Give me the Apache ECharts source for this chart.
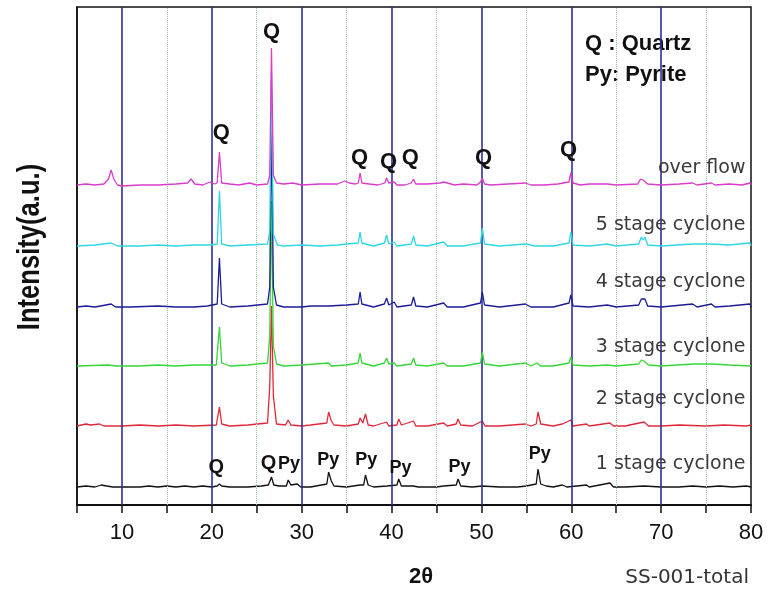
<!DOCTYPE html>
<html>
<head>
<meta charset="utf-8">
<script src="https://cdn.jsdelivr.net/npm/echarts@6/dist/echarts.min.js"></script>
<style>
    html, body { margin: 0; padding: 0; background: #fff; }
    #xrd_chart { width: 769px; height: 597px; }
</style>
</head>
<body>
<div id="xrd_chart"></div>
<script>
// 2-theta vs intensity (a.u.), intensity relative to each trace's own baseline
const stage1 = [[5,0],[6,1],[7,0],[7.7,2],[8.3,1],[9,0],[12,0],[13,1],[14,0],[15,1],[16,0],[17,1],[18,0],[19,1],[20,0],[20.6,1],[20.85,3],[21.1,1],[22,0],[24,0],[25.5,1],[26.3,2],[26.64,10],[26.9,2],[27.5,1],[28.3,1],[28.5,7],[28.8,2],[29.5,3],[29.9,0],[31,0],[32.8,3],[33.0,15],[33.3,6],[33.6,1],[35,0],[36.5,2],[36.9,2],[37.1,12],[37.4,2],[38,0],[39.5,1],[40.6,2],[40.8,8],[41.1,1],[42.4,1],[43,0],[45,0],[45.8,1],[47.2,2],[47.4,8],[47.7,1],[49,0],[50.1,1],[52,0],[54,0],[55,1],[56.1,3],[56.3,18],[56.6,3],[57.2,1],[58,0],[59,2],[59.5,0],[61.7,2],[62,0],[64.3,4],[64.7,0],[66,0],[68.1,1],[70,0],[72,0],[73.5,1],[75,0],[76.5,1],[78,0],[79.5,1],[80,0]];
const stage2 = [[5,0],[6,2],[6.5,1],[7.5,2],[8,0],[10,0],[12,1],[14,0],[16,1],[18,0],[20.5,1],[20.65,3],[20.85,19],[21.1,2],[22,0],[24,1],[26.2,3],[26.45,40],[26.64,120],[26.85,30],[27.2,2],[28.2,1],[28.5,6],[28.8,1],[30,0],[31,1],[32.8,3],[33.0,14],[33.3,5],[33.6,1],[35,0],[36.3,2],[36.5,8],[36.8,3],[37.1,12],[37.4,1],[38,0],[39.45,4],[39.7,0],[40.6,1],[40.8,7],[41.1,1],[42.45,5],[42.7,0],[44,0],[45.8,3],[46.2,0],[47.2,2],[47.4,7],[47.7,1],[49,0],[50.1,5],[50.4,0],[52,0],[54.9,2],[55.5,0],[56.1,2],[56.3,14],[56.6,2],[58,0],[59.0,2],[59.95,6],[60.2,0],[61.7,2],[62,0],[64.3,3],[64.7,0],[66,0],[68.1,4],[68.6,0],[70,0],[72,1],[75,0],[77,1],[79.5,0],[80,1]];
const stage3 = [[5,0],[8.5,1],[9.3,0],[12,0],[14,1],[16,0],[18,1],[20.5,1],[20.65,3],[20.85,39],[21.1,3],[22,0],[24,1],[26.2,3],[26.45,30],[26.64,165],[26.85,20],[27.2,2],[28,0],[30,1],[33,3],[33.3,0],[35,1],[36.3,3],[36.5,13],[36.7,3],[38,0],[39.2,3],[39.45,8],[39.7,2],[40.3,3],[40.6,0],[42.2,2],[42.45,8],[42.7,1],[44,0],[45.8,3],[46.2,0],[48,0],[49.9,3],[50.1,14],[50.35,2],[52,0],[54.9,3],[55.5,0],[56.2,3],[56.6,0],[58,0],[59.75,3],[59.95,9],[60.2,1],[62,0],[64,1],[65,0],[67.5,2],[67.8,6],[68.1,5],[68.3,6],[68.6,1],[70,0],[73.5,2],[75.6,2],[77.6,1],[80,0]];
const stage4 = [[5,0],[6,1],[7,0],[8.8,3],[9.3,0],[11,0],[14,1],[16,0],[18,0],[19.5,1],[20.6,3],[20.85,49],[21.1,3],[22,0],[24,1],[26.2,3],[26.45,20],[26.64,185],[26.85,20],[27.2,2],[28,0],[30,0],[31,1],[33,1],[35,2],[36.3,3],[36.5,15],[36.7,3],[38,0],[39.2,3],[39.45,9],[39.7,2],[40.3,5],[40.6,0],[42.2,2],[42.45,10],[42.7,1],[44,0],[45.8,4],[46.2,0],[48,0],[49.9,4],[50.1,15],[50.35,2],[52,0],[54.9,3],[55.5,0],[58,0],[59.75,4],[59.95,12],[60.2,1],[62,0],[64,2],[65,0],[67.5,2],[67.8,8],[68.0,6],[68.2,8],[68.5,1],[70,0],[73.5,3],[74,0],[75.6,3],[76,0],[77.6,1],[79.9,3],[80,0]];
const stage5 = [[5,0],[7,1],[8.8,3],[9.5,0],[12,0],[14,1],[16,0],[18,1],[19.8,1],[20.6,2],[20.85,55],[21.1,2],[22,0],[24,1],[26.2,2],[26.45,15],[26.64,173],[26.85,12],[27.3,1],[28,0],[30,1],[32,0],[34,1],[35,2],[36.3,3],[36.5,14],[36.7,3],[38,0],[39.2,3],[39.45,11],[39.7,2],[40.3,4],[40.6,0],[42.2,2],[42.45,10],[42.7,1],[44,0],[45.8,4],[46.2,0],[48,0],[49.9,3],[50.1,18],[50.35,2],[52,0],[54.9,2],[56,0],[58,0],[59.75,3],[59.95,14],[60.2,1],[62,0],[64,2],[65,0],[67.5,2],[67.8,9],[68.0,6],[68.2,9],[68.5,1],[70,0],[73.5,2],[75.6,2],[77.5,1],[79.9,3],[80,0]];
const overflow = [[5,0],[6,1],[7,0],[8,1],[8.5,6],[8.8,15],[9.1,6],[9.5,0],[10,-1],[12,0],[14,0],[16,1],[17.3,2],[17.7,6],[18.1,1],[19,0],[19.8,3],[20.3,1],[20.6,2],[20.85,33],[21.1,2],[22,1],[23,0],[24.2,2],[25,0],[26.2,1],[26.45,10],[26.64,137],[26.85,10],[27.2,2],[28,1],[29,2],[30,0],[32,1],[34,1],[34.8,4],[35.0,6],[35.3,2],[36,1],[36.3,2],[36.5,12],[36.7,2],[37.5,1],[38.5,0],[39.25,2],[39.45,7],[39.7,2],[40.3,3],[40.6,0],[41.5,0],[42.2,2],[42.45,6],[42.7,1],[44,1],[45.4,2],[45.8,3],[46.2,2],[47,0],[48,1],[49.5,0],[49.9,3],[50.1,7],[50.35,1],[51,0],[53,1],[54.9,2],[55.5,0],[57,0],[58.5,1],[59.75,3],[59.95,12],[60.2,2],[61,0],[62,1],[64,1],[65,0],[67.4,1],[67.7,6],[68.0,5],[68.2,6],[68.5,1],[70,0],[72,1],[73.5,2],[74,0],[75.6,2],[76,0],[77.6,1],[79,0],[79.9,2],[80,0]];

const traceNames = ["1 stage cyclone", "2 stage cyclone", "3 stage cyclone", "4 stage cyclone", "5 stage cyclone", "over flow"];
const traces = [stage1, stage2, stage3, stage4, stage5, overflow];
const traceOffsets = [18, 79, 139, 198, 259, 320];
const traceColors = ["#111111", "#e0283a", "#36d636", "#1c1c96", "#2fd6e4", "#d83cc8"];

const blueLines = [10, 20, 30, 40, 50, 60, 70];
const dottedLines = [15, 25, 35, 45, 55, 65, 75];

// peak marks [2theta, height, text]
const overflowMarks = [[26.64, 473, "Q"], [21.05, 372, "Q"], [36.43, 347, "Q"], [39.66, 343, "Q"], [42.1, 347, "Q"], [50.25, 347, "Q"], [59.7, 355, "Q"]];
const stage1Marks = [[20.5, 38, "Q"], [26.3, 42, "Q"], [28.6, 41, "Py"], [32.97, 45, "Py"], [37.2, 45, "Py"], [41.0, 37, "Py"], [47.57, 38, "Py"], [56.5, 51, "Py"]];
const traceLabelY = [41, 106, 158, 223, 280, 337];

const sansFont = "Arial, 'Liberation Sans', sans-serif";

let chart = echarts.init(document.getElementById("xrd_chart"));

let series = traces.map((pts, i) => {
    let marks = [{
        coord: [79.44, traceLabelY[i]],
        label: {
            show: true,
            position: "left",
            distance: 0,
            formatter: traceNames[i],
            fontFamily: "DejaVu Sans",
            fontSize: 19,
            color: "#3a3a3a",
        },
    }];
    let peaks = i == 5 ? overflowMarks : i == 0 ? stage1Marks : [];
    peaks.forEach((m) => {
        marks.push({
            coord: [m[0], m[1]],
            label: {
                show: true,
                position: "inside",
                formatter: m[2],
                fontFamily: sansFont,
                fontWeight: "bold",
                fontSize: m[2] == "Q" ? (i == 5 ? 22 : 20) : 18,
                color: "#111",
            },
        });
    });
    let s = {
        name: traceNames[i],
        type: "line",
        showSymbol: false,
        symbol: "none",
        silent: true,
        z: 3 + i,
        lineStyle: { color: traceColors[i], width: 1.3 },
        data: pts.map((p) => [p[0], p[1] + traceOffsets[i]]),
        markPoint: {
            symbol: "rect",
            symbolSize: 1,
            itemStyle: { color: "transparent" },
            silent: true,
            data: marks,
        },
    };
    if (i == 0) {
        s.markLine = {
            silent: true,
            symbol: "none",
            label: { show: false },
            data: blueLines.map((v) => ({ xAxis: v, lineStyle: { color: "#2f2f9e", width: 1.6, type: "solid" } }))
                .concat(dottedLines.map((v) => ({ xAxis: v, lineStyle: { color: "#9cc79c", width: 1, type: "dotted" } }))),
        };
    }
    return s;
});

chart.setOption({
    animation: false,
    grid: {
        left: 77,
        right: 18,
        top: 7,
        bottom: 92,
        show: true,
        borderColor: "#111",
        borderWidth: 1.5,
    },
    xAxis: {
        type: "value",
        min: 5,
        max: 80,
        interval: 5,
        axisLine: { lineStyle: { color: "#111", width: 2 } },
        axisTick: { inside: false, length: 8, lineStyle: { color: "#111", width: 1.5 } },
        axisLabel: {
            margin: 17,
            fontFamily: sansFont,
            fontSize: 22,
            color: "#111",
            formatter: (v) => (v % 10 == 0 ? String(v) : ""),
        },
        splitLine: { show: false },
    },
    yAxis: {
        type: "value",
        min: 0,
        max: 498,
        axisLine: { show: true, lineStyle: { color: "#111", width: 1.5 } },
        axisTick: { show: false },
        axisLabel: { show: false },
        splitLine: { show: false },
    },
    graphic: [
        {
            type: "text",
            x: 30,
            y: 247,
            rotation: Math.PI / 2,
            scaleX: 0.8,
            style: {
                text: "Intensity(a.u.)",
                font: "bold 32px Arial, 'Liberation Sans', sans-serif",
                fill: "#111",
                textAlign: "center",
                textVerticalAlign: "middle",
            },
        },
        {
            type: "text",
            x: 421,
            y: 577,
            style: {
                text: "2θ",
                font: "bold 22px Arial, 'Liberation Sans', sans-serif",
                fill: "#111",
                textAlign: "center",
                textVerticalAlign: "middle",
            },
        },
        {
            type: "text",
            x: 749,
            y: 578,
            style: {
                text: "SS-001-total",
                font: "20px 'DejaVu Sans'",
                fill: "#333",
                textAlign: "right",
                textVerticalAlign: "middle",
            },
        },
        {
            type: "text",
            x: 585,
            y: 44,
            style: {
                text: "Q : Quartz",
                font: "bold 22px Arial, 'Liberation Sans', sans-serif",
                fill: "#111",
                textVerticalAlign: "middle",
            },
        },
        {
            type: "text",
            x: 585,
            y: 75,
            style: {
                text: "Py: Pyrite",
                font: "bold 22px Arial, 'Liberation Sans', sans-serif",
                fill: "#111",
                textVerticalAlign: "middle",
            },
        },
    ],
    series: series,
});
</script>
</body>
</html>
